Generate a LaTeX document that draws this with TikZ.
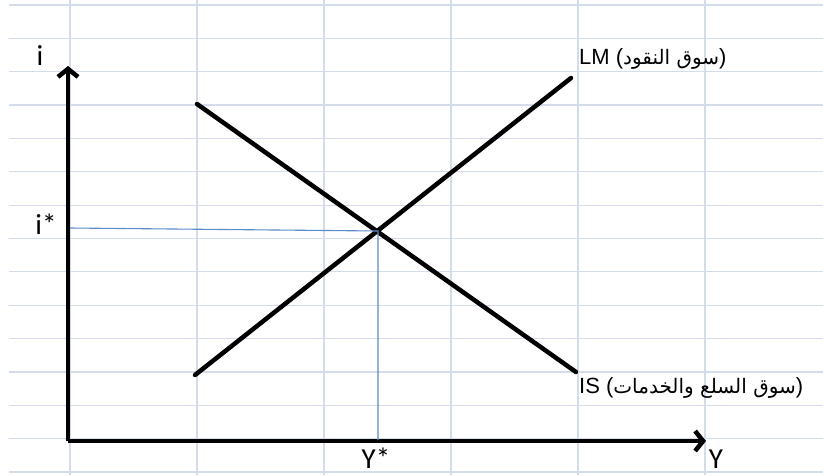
\documentclass[tikz,border=0pt]{standalone}
\usepackage{fontspec}
\setmainfont{Liberation Sans}
\newfontfamily\arabicfont[Script=Arabic]{DejaVu Sans}
\newfontfamily\axisfont{Carlito}
\TeXXeTstate=1
\usepackage{tikz}
\usetikzlibrary{arrows.meta, calc}

\definecolor{gridc}{HTML}{D4DCEB}
\definecolor{guidec}{HTML}{5B8BC9}

\newcommand{\arpart}[1]{{\arabicfont\fontsize{20}{22}\selectfont\beginR #1\endR}}

\begin{document}
\begin{tikzpicture}[
  x=1pt, y=-1pt,
  gridln/.style ={draw=gridc, line width=1.2pt},
  curve/.style  ={draw=black, line width=4.5pt, line cap=round},
  axis/.style   ={draw=black, line width=4.5pt, -{Straight Barb[length=8pt, width=20pt, line width=4.5pt]}},
  guide/.style  ={draw=guidec, line width=1.1pt},
  axlab/.style  ={font=\axisfont\fontsize{29}{30}\selectfont, inner sep=0pt},
  curlab/.style ={font=\fontsize{22}{24}\selectfont, anchor=west, inner sep=0pt},
]
\useasboundingbox (0,0) rectangle (823,475);
\fill[white] (0,0) rectangle (823,475);

% --- Spreadsheet grid ---
\foreach \k in {0,...,14}
  \draw[gridln] (9,{5+33.36*\k}) -- (823,{5+33.36*\k});
\foreach \x in {70,197,324,451,578,705}
  \draw[gridln] (\x,0) -- (\x,475);

% --- Axes ---
\coordinate (O)  at (68,441);
\coordinate (yt) at (68,66);
\coordinate (xt) at (706,441);
\draw[axis] (O) -- (yt);
\draw[axis] (O) -- (xt);

% --- IS and LM ---
\coordinate (is1) at (197,104);
\coordinate (is2) at (576,372);
\coordinate (lm1) at (195,375);
\coordinate (lm2) at (571,78);
\draw[curve] (is1) -- (is2);
\draw[curve] (lm1) -- (lm2);

% --- Equilibrium ---
\coordinate (E)  at (378,231);
\coordinate (iE) at (70,228);
\coordinate (yE) at (378,440);
\draw[guide] (iE) -- (E) -- (yE);

% --- Labels ---
\node[axlab] (li)  at (40,56)   {i};
\node[axlab] (lis) at (46,224)  {i*};
\node[axlab] (lys) at (376,458) {Y*};
\node[axlab] (ly)  at (716,459) {Y};
\node[curlab] (llm) at (579,59)  {LM (\arpart{سوق النقود})};
\node[curlab] (lis2) at (579,388) {IS (\arpart{سوق السلع والخدمات})};
\end{tikzpicture}
\end{document}
